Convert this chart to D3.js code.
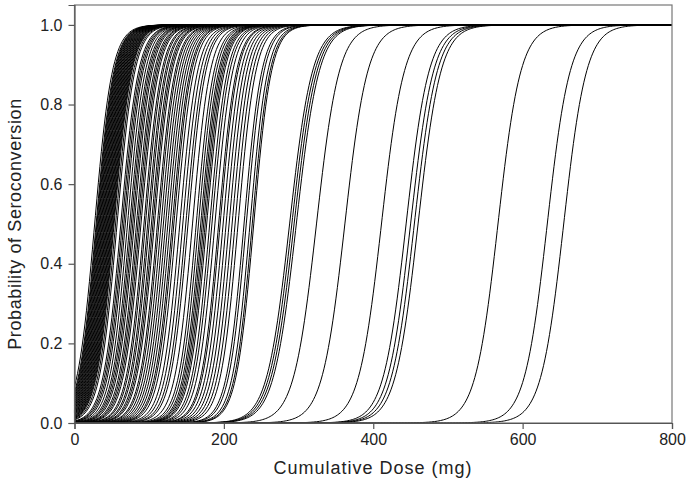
<!DOCTYPE html>
<html>
<head>
<meta charset="utf-8">
<script src="https://cdn.jsdelivr.net/npm/d3@7"></script>
<style>
  body { margin: 0; background: #fff; }
  text { font-family: "Liberation Sans", Arial, sans-serif; fill: #222; }
</style>
</head>
<body>
<div id="chart"></div>
<script>
// ED50 (dose at p = 0.5, mg)
const earlyMidpoints = [
  27, 29, 30, 31, 32, 33, 34, 35, 36, 37, 38, 39, 40, 41, 42, 43, 44, 45,
  46, 47, 48, 49, 50, 51, 52, 53, 55, 57,
  62, 64, 66, 68, 71, 74, 76, 78, 80, 83, 85, 87, 89, 93, 95, 98, 100,
  103, 105, 107, 111, 113, 116, 119, 122, 125, 128, 131, 133, 136, 141,
  145, 149, 152, 158, 163, 166, 169, 171, 173, 175, 177, 181, 184, 188,
  193, 195, 199, 203, 207, 211, 215, 219, 227, 230, 235, 238, 240
];
const lateMidpoints = [288, 291, 294, 297, 324, 362, 411, 444, 450, 455, 460, 567, 633, 655];
// logistic slope per mg for each group
const earlySlope = 0.085;
const lateSlope = 0.066;
const xTicks = [0, 200, 400, 600, 800];
const yTicks = [0, 0.2, 0.4, 0.6, 0.8, 1.0];

const curves = earlyMidpoints.map(m => ({ m, k: earlySlope }))
  .concat(lateMidpoints.map(m => ({ m, k: lateSlope })));

const width = 686, height = 482;
const svg = d3.select('#chart').append('svg')
  .attr('width', width)
  .attr('height', height);

const x = d3.scaleLinear().domain([0, 800]).range([74.5, 672]);
const y = d3.scaleLinear().domain([0, 1.05]).range([423, 5]);

const doses = d3.range(0, 801, 2);
const line = d3.line()
  .x(d => x(d[0]))
  .y(d => y(d[1]));

svg.append('g')
  .selectAll('path')
  .data(curves)
  .enter()
  .append('path')
  .attr('d', c => line(doses.map(dd => [dd, 1 / (1 + Math.exp(-c.k * (dd - c.m)))])))
  .attr('fill', 'none')
  .attr('stroke', '#000')
  .attr('stroke-width', 1);

// frame
svg.append('rect')
  .attr('x', 74.5).attr('y', 5)
  .attr('width', 672 - 74.5).attr('height', 423 - 5)
  .attr('fill', 'none')
  .attr('stroke', '#777')
  .attr('stroke-width', 1.2);

const xAxis = svg.append('g')
  .attr('transform', 'translate(0,423)')
  .call(d3.axisBottom(x).tickValues(xTicks).tickFormat(d3.format('d')).tickSize(6).tickPadding(5));
const yAxis = svg.append('g')
  .attr('transform', 'translate(74.5,0)')
  .call(d3.axisLeft(y).tickValues(yTicks).tickFormat(d3.format('.1f')).tickSize(6).tickPadding(6));

[xAxis, yAxis].forEach(g => {
  g.select('.domain').attr('stroke', '#555').attr('stroke-width', 1.2);
  g.selectAll('.tick line').attr('stroke', '#555').attr('stroke-width', 1.2);
  g.selectAll('.tick text')
    .style('font-family', '"Liberation Sans", Arial, sans-serif')
    .style('font-size', '16px')
    .attr('fill', '#222');
});

svg.append('text')
  .attr('x', 373)
  .attr('y', 474)
  .attr('text-anchor', 'middle')
  .style('font-size', '18px')
  .style('letter-spacing', '1px')
  .text('Cumulative Dose (mg)');

svg.append('text')
  .attr('transform', 'translate(21,224) rotate(-90)')
  .attr('text-anchor', 'middle')
  .style('font-size', '18px')
  .style('letter-spacing', '0.6px')
  .text('Probability of Seroconversion');
</script>
</body>
</html>
